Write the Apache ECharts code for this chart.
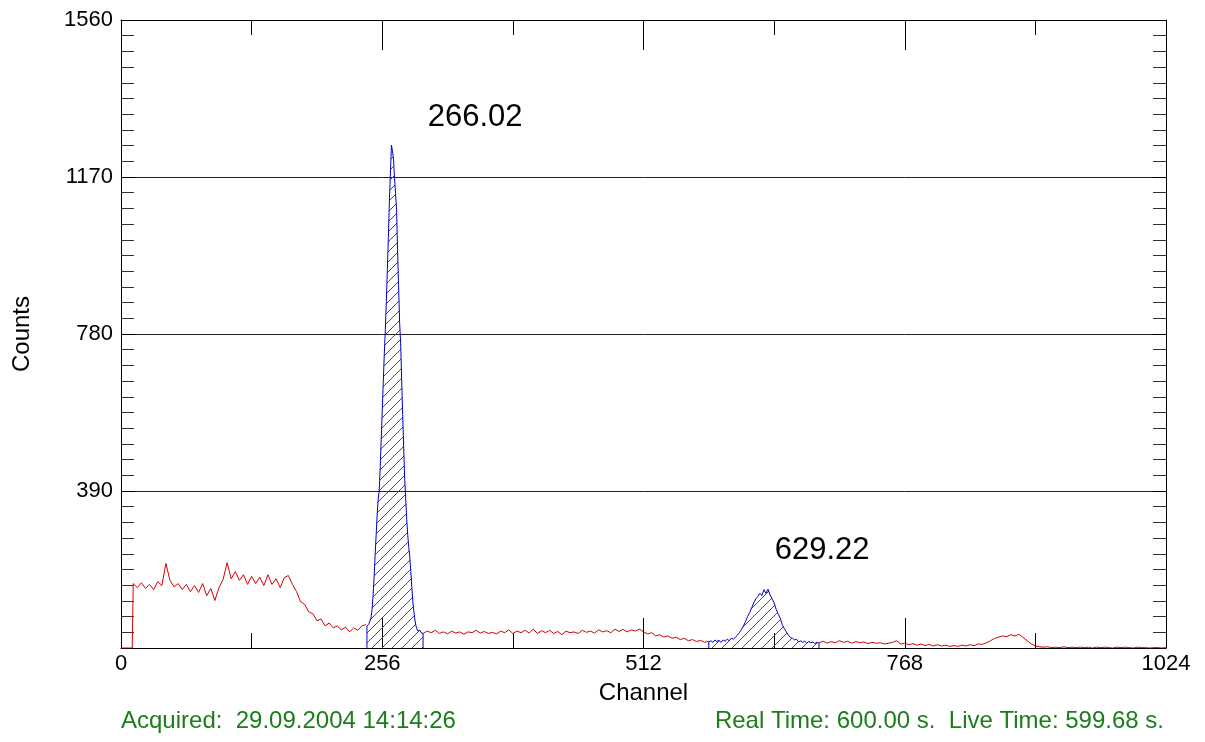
<!DOCTYPE html>
<html>
<head>
<meta charset="utf-8">
<script src="https://cdn.jsdelivr.net/npm/echarts@6/dist/echarts.min.js"></script>
<style>
html, body { margin: 0; padding: 0; background: #fff; }
#chart { width: 1205px; height: 742px; }
</style>
</head>
<body>
<div id="chart"></div>
<script>
// spectrum (channel -> counts)
const leadIn = [[0, 0], [11, 0]];

// red background before the first peak, channels 12..240 every 4
const lowStart = 12, lowStep = 4;
const lowCounts = [160, 150, 162, 148, 158, 145, 165, 155, 210, 168, 152, 160, 145, 158, 140, 155,
    138, 160, 130, 148, 118, 150, 170, 212, 172, 190, 168, 182, 158, 178, 160, 176, 155, 182, 158,
    172, 150, 175, 180, 158, 140, 115, 108, 90, 85, 68, 72, 55, 62, 50, 55, 45, 52, 40, 50, 44, 55, 58];

// first peak (blue), channels 241..296
const peak1Start = 241;
const peak1Counts = [55, 58, 60, 62, 75, 95, 130, 175, 230, 280, 330, 370, 390, 450, 520, 590,
    660, 730, 790, 860, 940, 1020, 1110, 1180, 1249, 1235, 1215, 1170, 1130, 1090, 990, 900,
    810, 760, 670, 580, 500, 420, 370, 320, 280, 250, 225, 190, 150, 115, 90, 70, 55, 48, 42,
    40, 44, 38, 40, 36];

// red plateau between the peaks, channels 296..576 every 4
const midStart = 296, midStep = 4;
const midCounts = [36, 42, 38, 44, 36, 40, 35, 42, 37, 40, 34, 40, 38, 44, 37, 41, 36, 39, 35, 42,
    38, 45, 36, 42, 38, 44, 37, 47, 36, 43, 38, 44, 36, 41, 33, 42, 38, 40, 36, 44, 39, 42, 37, 45,
    40, 43, 38, 47, 41, 46, 40, 45, 42, 47, 40, 35, 38, 30, 33, 27, 30, 24, 27, 21, 24, 18, 21, 16,
    19, 14, 17];

// second peak (blue), channels 576..684 every 2
const peak2Start = 576, peak2Step = 2;
const peak2Counts = [15, 18, 14, 20, 16, 19, 14, 20, 17, 22, 18, 24, 22, 26, 32, 38, 46, 55, 66, 78,
    88, 100, 112, 122, 128, 136, 130, 145, 136, 146, 132, 122, 112, 96, 84, 74, 58, 48, 40, 32, 26,
    24, 20, 22, 15, 18, 14, 17, 12, 16, 13, 15, 11, 14, 12];

// red tail, channels 684..1024 every 4
const highStart = 684, highStep = 4;
const highCounts = [13, 17, 12, 16, 13, 18, 14, 17, 12, 16, 13, 15, 11, 14, 12, 13, 10, 12, 14, 18,
    10, 12, 8, 11, 7, 10, 6, 9, 5, 8, 5, 7, 4, 6, 4, 7, 5, 8, 6, 10, 9, 13, 18, 24, 27, 30, 28, 33,
    30, 34, 26, 18, 10, 5, 3, 2, 3, 1, 2, 1, 3, 1, 2, 1, 2, 1, 2, 0, 2, 1, 2, 1, 0, 2, 1, 2, 1, 0,
    2, 1, 1, 0, 1, 1, 0, 1];

const peakNames = ['266.02', '629.22'];
const peakLabelAt = [[347, 1318], [687, 242]];

const xTicks = [0, 256, 512, 768, 1024];
const yTicks = [0, 390, 780, 1170, 1560];

function toPairs(start, step, counts) {
    return counts.map((c, i) => [start + i * step, c]);
}

const redA = leadIn.concat(toPairs(lowStart, lowStep, lowCounts));
const redB = toPairs(midStart, midStep, midCounts);
const redC = toPairs(highStart, highStep, highCounts);
const blue1 = toPairs(peak1Start, 1, peak1Counts);
const blue2 = toPairs(peak2Start, peak2Step, peak2Counts);
blue1.unshift([blue1[0][0], 0]);
blue1.push([blue1[blue1.length - 1][0], 0]);
blue2.unshift([blue2[0][0], 0]);
blue2.push([blue2[blue2.length - 1][0], 0]);

// hatch pattern for the peak areas: one blue "/" diagonal per 10px tile
const hatch = document.createElement('canvas');
hatch.width = 10;
hatch.height = 10;
const hc = hatch.getContext('2d');
hc.fillStyle = '#3a3ae0';
for (let i = 0; i < 10; i++) {
    hc.fillRect(i, 9 - i, 1, 1);
}

const font = "'Liberation Sans', Arial, sans-serif";
const chart = echarts.init(document.getElementById('chart'));

const redLine = {color: '#d40000', width: 1};
const blueLine = {color: '#0000c8', width: 1};

function redSeries(data) {
    return {type: 'line', data: data, symbol: 'none', lineStyle: redLine, animation: false,
        xAxisIndex: 0, yAxisIndex: 0, z: 3};
}

function blueSeries(data, idx) {
    return {
        type: 'line', data: data, symbol: 'none', lineStyle: blueLine, animation: false,
        itemStyle: {color: '#0000c8'},
        areaStyle: {color: {image: hatch, repeat: 'repeat'}, opacity: 1},
        z: 4,
        markPoint: {
            symbol: 'circle', symbolSize: 0, animation: false,
            label: {show: true, position: 'inside', color: '#000', fontSize: 31, fontFamily: font,
                formatter: peakNames[idx]},
            data: [{coord: peakLabelAt[idx]}]
        }
    };
}

const axisCol = '#000';
const plain = v => String(v);

chart.setOption({
    animation: false,
    grid: {left: 121, right: 39, top: 20, bottom: 94},
    xAxis: [{
        type: 'value', min: xTicks[0], max: xTicks[xTicks.length - 1], interval: 256,
        position: 'bottom',
        axisLine: {onZero: false, lineStyle: {color: axisCol, width: 1}},
        axisTick: {show: true, inside: true, length: 30, lineStyle: {color: axisCol}},
        minorTick: {show: true, splitNumber: 2, length: 15, lineStyle: {color: axisCol}},
        axisLabel: {fontSize: 22, color: '#000', fontFamily: font, margin: 5, formatter: plain},
        splitLine: {show: false},
        name: 'Channel', nameLocation: 'middle', nameGap: 33,
        nameTextStyle: {fontSize: 24, color: '#000', fontFamily: font}
    }, {
        type: 'value', min: xTicks[0], max: xTicks[xTicks.length - 1], interval: 256,
        position: 'top',
        axisLine: {show: true, onZero: false, lineStyle: {color: axisCol, width: 1}},
        axisTick: {show: true, inside: true, length: 30, lineStyle: {color: axisCol}},
        minorTick: {show: true, splitNumber: 2, length: 15, lineStyle: {color: axisCol}},
        axisLabel: {show: false},
        splitLine: {show: false}
    }],
    yAxis: [{
        type: 'value', min: yTicks[0], max: yTicks[yTicks.length - 1], interval: 390,
        position: 'left',
        axisLine: {show: true, onZero: false, lineStyle: {color: axisCol, width: 1}},
        axisTick: {show: true, inside: true, length: 13, lineStyle: {color: axisCol}},
        minorTick: {show: true, splitNumber: 10, length: 13, lineStyle: {color: '#333'}},
        axisLabel: {fontSize: 22, color: '#000', fontFamily: font, margin: 8, showMinLabel: false,
            formatter: plain},
        splitLine: {show: true, lineStyle: {color: '#222', width: 1}},
        name: 'Counts', nameLocation: 'middle', nameGap: 87, nameRotate: 90,
        nameTextStyle: {fontSize: 24, color: '#000', fontFamily: font}
    }, {
        type: 'value', min: yTicks[0], max: yTicks[yTicks.length - 1], interval: 390,
        position: 'right',
        axisLine: {show: true, onZero: false, lineStyle: {color: axisCol, width: 1}},
        axisTick: {show: true, inside: true, length: 13, lineStyle: {color: axisCol}},
        minorTick: {show: true, splitNumber: 10, length: 13, lineStyle: {color: '#333'}},
        axisLabel: {show: false},
        splitLine: {show: false}
    }],
    series: [
        redSeries(redA),
        redSeries(redB),
        redSeries(redC),
        blueSeries(blue1, 0),
        blueSeries(blue2, 1)
    ],
    graphic: [{
        type: 'text', left: 121, top: 709,
        style: {text: 'Acquired:  29.09.2004 14:14:26', fill: '#1b7d1b', font: '24px ' + font}
    }, {
        type: 'text', right: 41, top: 709,
        style: {text: 'Real Time: 600.00 s.  Live Time: 599.68 s.', fill: '#1b7d1b', font: '24px ' + font}
    }]
});
</script>
</body>
</html>
